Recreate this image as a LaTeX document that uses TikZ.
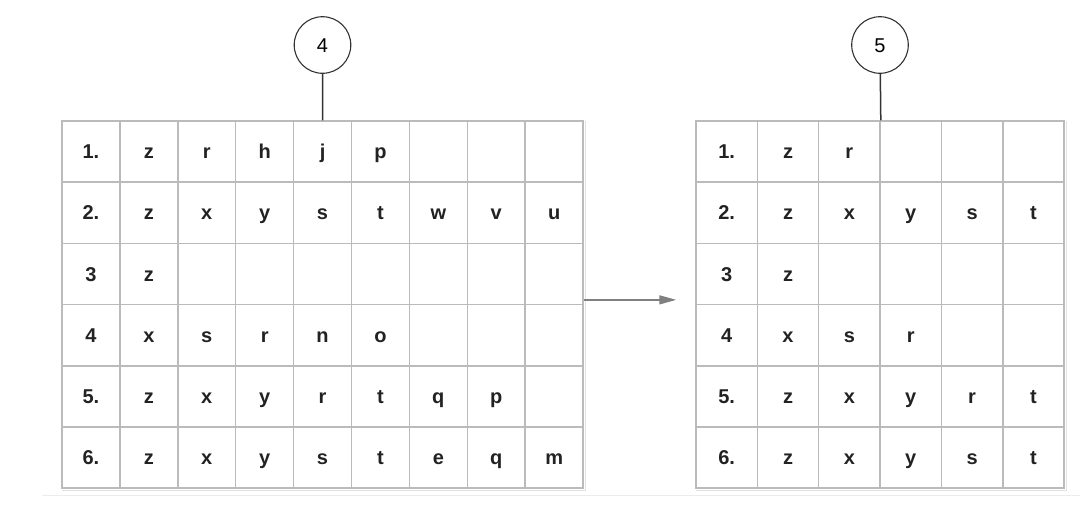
\documentclass[tikz,border=0pt]{standalone}
\usepackage{fontspec}
\setmainfont{Liberation Sans}
\usetikzlibrary{arrows.meta,calc}
\definecolor{gridc}{HTML}{BBBBBB}
\definecolor{shadowc}{HTML}{E2E2E2}
\definecolor{inkc}{HTML}{222222}
\definecolor{circc}{HTML}{333333}
\definecolor{arrowc}{HTML}{808080}
\definecolor{basec}{HTML}{ECECEC}
\begin{document}
\begin{tikzpicture}[x=1pt,y=-1pt,
  cellL/.style={draw=gridc, line width=1.5pt, inner sep=0pt, minimum width=57.9pt, minimum height=61.2pt,
    text height=14pt, text depth=0pt,
    font=\bfseries\fontsize{20}{20}\selectfont, text=inkc},
  cellR/.style={cellL, minimum width=61.35pt},
  circ/.style={circle, draw=circc, line width=1.1pt, minimum size=56.6pt, inner sep=0pt,
    text height=14.5pt, text depth=0pt,
    font=\fontsize{20}{20}\selectfont, text=black},
  stem/.style={draw=circc, line width=1.5pt},
  flow/.style={draw=arrowc, line width=1.3pt, -{Triangle[length=17pt,width=9pt]}},
  shadowline/.style={draw=shadowc, line width=1.4pt},
  baseline/.style={draw=basec, line width=1.5pt}]
\useasboundingbox (0,0) rectangle (1080,512);
% left table
\foreach \row [count=\r] in {
  {1.,z,r,h,j,p,{},{},{}},
  {2.,z,x,y,s,t,w,v,u},
  {3,z,{},{},{},{},{},{},{}},
  {4,x,s,r,n,o,{},{},{}},
  {5.,z,x,y,r,t,q,p,{}},
  {6.,z,x,y,s,t,e,q,m}}{
  \foreach \t [count=\c] in \row {
    \node[cellL] (L-\r-\c) at ({62+(\c-0.5)*57.9},{121+(\r-0.5)*61.2}) {\t};
  }
}
% right table
\foreach \row [count=\r] in {
  {1.,z,r,{},{},{}},
  {2.,z,x,y,s,t},
  {3,z,{},{},{},{}},
  {4,x,s,r,{},{}},
  {5.,z,x,y,r,t},
  {6.,z,x,y,s,t}}{
  \foreach \t [count=\c] in \row {
    \node[cellR] (R-\r-\c) at ({696+(\c-0.5)*61.35},{121+(\r-0.5)*61.2}) {\t};
  }
}
% soft shadows of outer borders
\draw[shadowline] ($(L-6-1.south west)+(1,1.6)$) -- ($(L-6-9.south east)+(1.6,1.6)$) -- ($(L-1-9.north east)+(1.6,1)$);
\draw[shadowline] ($(R-6-1.south west)+(1,1.6)$) -- ($(R-6-6.south east)+(1.6,1.6)$) -- ($(R-1-6.north east)+(1.6,1)$);
% circles
\node[circ] (c4) at (322.5,45) {4};
\node[circ] (c5) at (880,45) {5};
\draw[stem] (c4) -- (L-1-5.north);
\draw[stem] (c5) -- (R-1-3.north east);
% arrow
\draw[flow] ($(L-4-9.north east)+(0,-4)$) -- ($(R-4-1.north west)+(-19,-4)$);
% base line
\coordinate (b1) at (42,495.5);
\coordinate (b2) at (1080,495.5);
\draw[baseline] (b1) -- (b2);
\end{tikzpicture}
\end{document}
